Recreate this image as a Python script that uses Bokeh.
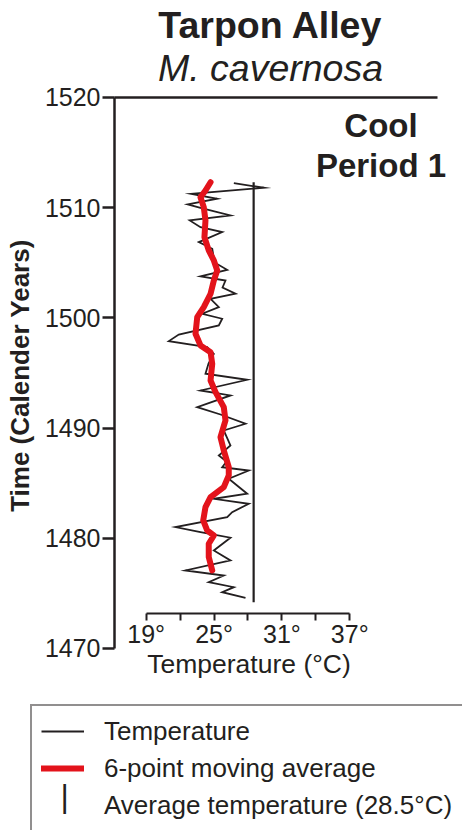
import math
from bokeh.plotting import figure
from bokeh.models import (Range1d, LinearAxis, FixedTicker, Label, Legend, LegendItem,
                          PrintfTickFormatter)
from bokeh.embed import file_html
from bokeh.resources import INLINE

# ---------------- data ----------------
temp_year = [1512.22, 1511.81, 1511.26, 1510.81, 1510.29, 1509.99, 1509.29, 1508.84, 1508.23, 1507.78,
             1506.87, 1506.27, 1505.03, 1504.36, 1503.76, 1503.39, 1502.76, 1502.19, 1501.73, 1500.97,
             1500.37, 1499.92, 1499.31, 1498.49, 1497.89, 1497.34, 1496.74, 1495.86, 1494.93, 1494.38,
             1493.41, 1492.96, 1491.90, 1491.23, 1490.39, 1489.78, 1488.42, 1487.51, 1486.97, 1486.45,
             1486.15, 1485.40, 1484.04, 1483.58, 1483.13, 1482.37, 1481.91, 1481.01, 1480.55, 1480.05,
             1478.89, 1477.99, 1477.08, 1476.62, 1476.02, 1475.56, 1475.11, 1474.60]
temp_value = [26.75, 29.40, 22.98, 25.28, 22.68, 23.80, 26.45, 22.85, 23.80, 25.72,
              23.65, 24.84, 25.04, 26.16, 23.80, 26.01, 25.75, 26.90, 24.69, 25.42,
              23.95, 25.72, 25.42, 21.88, 21.00, 24.39, 24.98, 24.51, 24.24, 27.93,
              23.80, 26.45, 23.51, 25.57, 27.78, 25.86, 26.45, 25.42, 26.10, 25.72,
              28.07, 26.30, 27.93, 24.98, 28.07, 26.60, 26.16, 21.59, 23.80, 26.45,
              24.98, 26.45, 22.47, 25.86, 24.53, 26.75, 25.72, 27.78]

ma_year = [1512.31, 1511.56, 1510.95, 1510.05, 1508.84, 1507.32, 1506.12, 1505.21, 1504.30, 1503.39,
           1502.19, 1500.97, 1500.06, 1498.56, 1497.50, 1496.89, 1495.83, 1494.32, 1493.26, 1491.90,
           1490.69, 1489.17, 1487.97, 1486.45, 1485.70, 1484.64, 1483.73, 1482.82, 1481.62, 1480.71,
           1480.25, 1479.50, 1478.29, 1477.08]
ma_value = [24.69, 24.24, 23.80, 24.09, 24.24, 24.15, 24.53, 24.98, 25.28, 24.98,
            24.69, 24.09, 23.51, 23.36, 23.80, 24.69, 24.84, 24.69, 25.13, 25.86,
            26.01, 25.57, 25.86, 26.30, 26.30, 25.86, 24.69, 24.24, 24.04, 24.39,
            24.98, 24.53, 24.53, 24.84]

avg_temp = [28.5]
avg_start_year = [1474.2]
avg_end_year = [1512.3]

time_ticks = [1470, 1480, 1490, 1500, 1510, 1520]
temp_major_ticks = [19, 25, 31, 37]
temp_minor_ticks = [22, 28, 34]

INK = "#231f20"
RED = "#e3131b"
FONT = "Liberation Sans"

# ---------------- figure (frame covers the whole canvas) ----------------
p = figure(width=462, height=830, output_backend="svg", toolbar_location=None,
           x_range=Range1d(6.117, 46.967), y_range=Range1d(1453.48, 1528.80),
           x_axis_location=None, y_axis_location=None, min_border=0)
p.title.visible = False
p.outline_line_color = None
p.grid.visible = False
p.background_fill_color = "white"
p.border_fill_color = "white"

# left time axis
yaxis = LinearAxis(ticker=FixedTicker(ticks=time_ticks), bounds=(1470, 1520), fixed_location=16.2,
                   axis_line_width=2.5, axis_line_color=INK,
                   major_tick_out=12, major_tick_in=0, major_tick_line_width=2.5,
                   major_tick_line_color=INK, minor_tick_out=0, minor_tick_in=0,
                   major_label_text_font=FONT, major_label_text_font_size="25px",
                   major_label_text_color=INK, major_label_standoff=2)
p.add_layout(yaxis, "left")

# top rule
top_axis = LinearAxis(ticker=FixedTicker(ticks=[]), fixed_location=1520, bounds=(16.2, 44.76),
                      axis_line_width=2.5, axis_line_color=INK,
                      major_tick_out=0, major_tick_in=0, minor_tick_out=0, minor_tick_in=0,
                      major_label_text_font_size="0px")
p.add_layout(top_axis, "above")

# temperature axis (short, floating)
xaxis = LinearAxis(ticker=FixedTicker(ticks=temp_major_ticks, minor_ticks=temp_minor_ticks),
                   bounds=(19, 37), fixed_location=1473.2,
                   formatter=PrintfTickFormatter(format="%d°"),
                   axis_line_width=2, axis_line_color=INK,
                   major_tick_out=7, major_tick_in=0, major_tick_line_width=2, major_tick_line_color=INK,
                   minor_tick_out=7, minor_tick_in=0, minor_tick_line_width=2, minor_tick_line_color=INK,
                   major_label_text_font=FONT, major_label_text_font_size="25px",
                   major_label_text_color=INK, major_label_standoff=0)
p.add_layout(xaxis, "below")

# data renderers
r_temp = p.line(x=temp_value, y=temp_year, line_color=INK, line_width=1.8, line_join="miter")
r_ma = p.line(x=ma_value, y=ma_year, line_color=RED, line_width=6, line_join="round", line_cap="round")
p.segment(x0=avg_temp, y0=avg_start_year, x1=avg_temp, y1=avg_end_year, line_color=INK, line_width=2.2)
r_avg_key = p.vspan(x=[], line_color=INK, line_width=2.5)

# texts
def text_label(x, y, text, size, style="normal", align="center", angle=0.0):
    return Label(x=x, y=y, text=text, text_font=FONT, text_font_size=size, text_font_style=style,
                 text_align=align, text_baseline="bottom", angle=angle, text_color=INK)

p.add_layout(text_label(29.99, 1524.63, "Tarpon Alley", "37.5px", "bold"))
p.add_layout(text_label(29.99, 1520.73, "M. cavernosa", "37.5px", "italic"))
p.add_layout(text_label(39.76, 1515.82, "Cool", "33px", "bold"))
p.add_layout(text_label(39.76, 1512.19, "Period 1", "33px", "bold"))
p.add_layout(text_label(9.16, 1494.77, "Time (Calender Years)", "26px", "bold", angle=math.pi / 2))
p.add_layout(text_label(28.09, 1467.22, "Temperature (°C)", "26.5px"))

legend = Legend(items=[LegendItem(label="Temperature", renderers=[r_temp]),
                       LegendItem(label="6-point moving average", renderers=[r_ma]),
                       LegendItem(label="Average temperature (28.5°C)", renderers=[r_avg_key])],
                location=(30, -2), orientation="vertical", margin=0, padding=9, spacing=5,
                glyph_width=43, glyph_height=32, label_height=32, label_width=370, label_standoff=20,
                label_text_font=FONT, label_text_font_size="26px", label_text_color=INK,
                border_line_color=INK, border_line_width=2, background_fill_color="white",
                background_fill_alpha=0)
p.add_layout(legend, "center")
# key mark of the average-temperature entry
p.add_layout(text_label(11.78, 1455.0, "|", "32px"))

open("out.html", "w").write(file_html(p, INLINE))
